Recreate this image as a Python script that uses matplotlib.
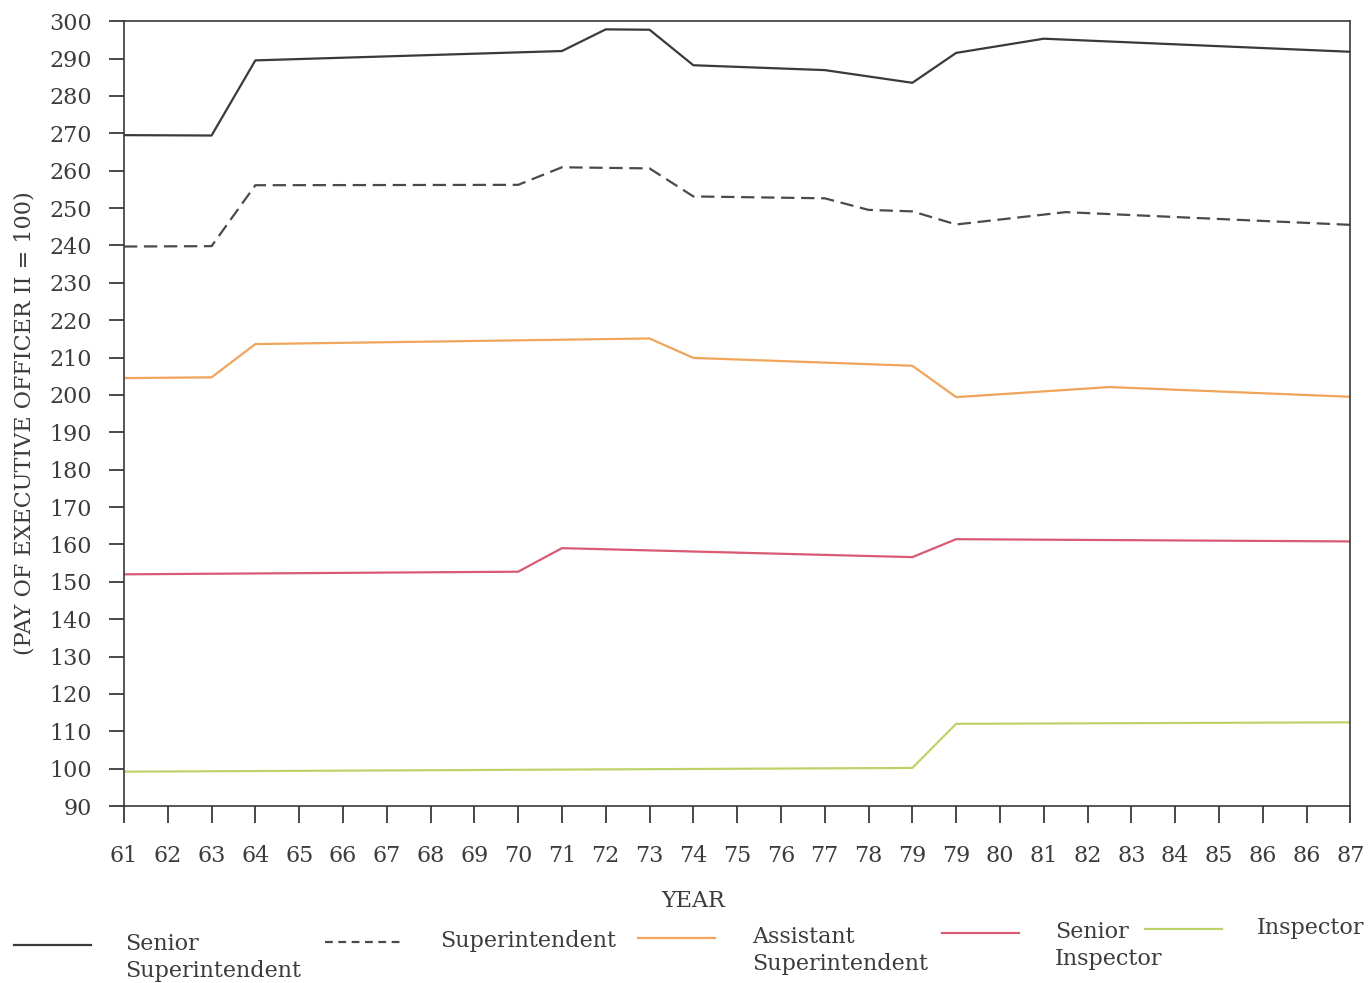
import matplotlib
matplotlib.use('Agg')
import matplotlib.pyplot as plt
from matplotlib.lines import Line2D

year_labels = ['61', '62', '63', '64', '65', '66', '67', '68', '69', '70',
               '71', '72', '73', '74', '75', '76', '77', '78', '79', '79',
               '80', '81', '82', '83', '84', '85', '86', '86', '87']

# x = position along the year axis (tick index), values = pay index
senior_supt_x = [0, 2, 3, 10, 11, 12, 13, 16, 18, 19, 21, 28]
senior_supt = [269.5, 269.4, 289.5, 292.0, 297.8, 297.7, 288.2, 286.9, 283.5, 291.5, 295.3, 291.8]

supt_x = [0, 2, 3, 9, 10, 12, 13, 16, 17, 18, 19, 21.5, 28]
supt = [239.7, 239.8, 256.1, 256.2, 260.9, 260.6, 253.1, 252.6, 249.5, 249.1, 245.6, 248.9, 245.5]

asst_supt_x = [0, 2, 3, 12, 13, 18, 19, 22.5, 28]
asst_supt = [204.5, 204.7, 213.6, 215.1, 209.9, 207.8, 199.4, 202.1, 199.5]

senior_insp_x = [0, 9, 10, 18, 19, 28]
senior_insp = [152.0, 152.7, 159.0, 156.6, 161.4, 160.8]

insp_x = [0, 18, 19, 28]
insp = [99.2, 100.2, 112.0, 112.4]

series_names = ['Senior\nSuperintendent', 'Superintendent', 'Assistant\nSuperintendent',
                'Senior\nInspector', 'Inspector']
colors = ['#3a3a3a', '#4a4a4a', '#f0a55a', '#d95a72', '#bcd36a']

plt.rcParams['font.family'] = ['DejaVu Serif']
txt = '#3c3c3c'

fig = plt.figure(figsize=(13.68, 9.83), dpi=100)
ax = fig.add_axes([0.0906, 0.18, 0.8965, 0.7985])

ax.plot(senior_supt_x, senior_supt, color=colors[0], lw=1.6)
ax.plot(supt_x, supt, color=colors[1], lw=1.6, dashes=(6, 3))
ax.plot(asst_supt_x, asst_supt, color=colors[2], lw=1.6)
ax.plot(senior_insp_x, senior_insp, color=colors[3], lw=1.6)
ax.plot(insp_x, insp, color=colors[4], lw=1.6)

ax.set_xlim(0, len(year_labels) - 1)
ax.set_ylim(90, 300)
ax.set_xticks(range(len(year_labels)))
ax.set_xticklabels(year_labels)
ax.set_yticks(range(90, 301, 10))

for s in ax.spines.values():
    s.set_color('#3a3a3a')
    s.set_linewidth(1.2)
ax.tick_params(axis='both', direction='out', color='#3a3a3a', width=1.3,
               labelsize=16, labelcolor=txt)
ax.tick_params(axis='x', length=12, pad=16)
ax.tick_params(axis='y', length=11, pad=12)

fig.text(0.018, 0.57, '(PAY OF EXECUTIVE OFFICER II = 100)', rotation=90,
         ha='center', va='center', fontsize=16, color=txt)
fig.text(0.507, 0.083, 'YEAR', ha='center', va='center', fontsize=16, color=txt)

# legend drawn by hand along the bottom
line_x0 = [14, 325, 638, 942, 1145]
line_y = [945, 942, 938, 933, 929]
text_x = [125, 440, 752, 1055, 1257]
W, H = 1368.0, 983.0
for i, name in enumerate(series_names):
    ls = dict(dashes=(3.5, 2.5)) if i == 1 else {}
    fig.add_artist(Line2D([line_x0[i] / W, (line_x0[i] + 77) / W],
                          [1 - line_y[i] / H, 1 - line_y[i] / H],
                          color=colors[i], lw=1.6, transform=fig.transFigure, **ls))
    fig.text(text_x[i] / W, 1 - (line_y[i] - 12) / H, name, ha='left', va='top',
             fontsize=16, color=txt, linespacing=1.3)

fig.savefig('out.png', dpi=100, facecolor='white')
